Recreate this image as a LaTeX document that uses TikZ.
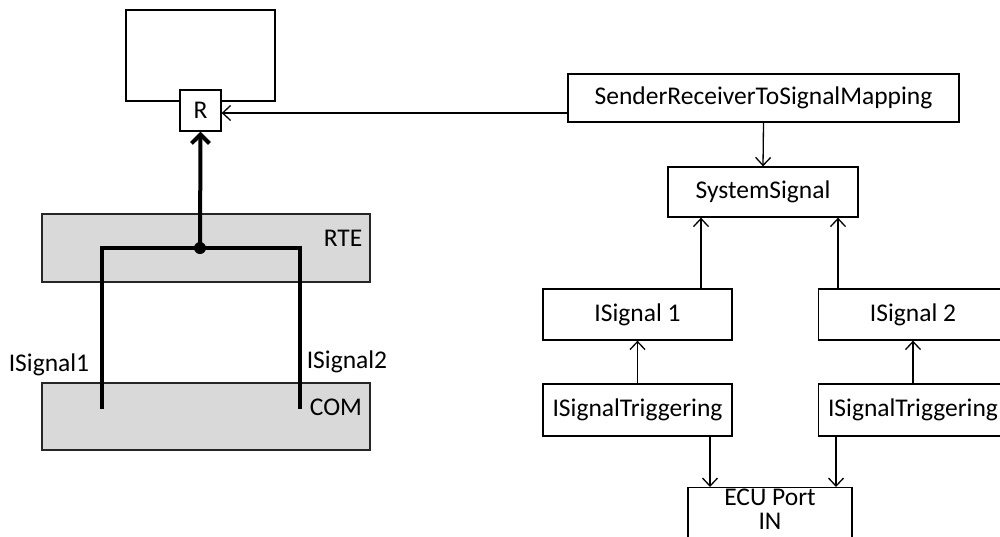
\documentclass[tikz,border=0pt]{standalone}
\usepackage{fontspec}
\setmainfont{Carlito}
\usetikzlibrary{arrows.meta}
\definecolor{boxgray}{HTML}{D9D9D9}
\tikzset{
  box/.style={draw, line width=1.3pt, inner sep=0pt, font=\fontsize{25.5}{30}\selectfont},
  graybox/.style={draw=black!85, fill=boxgray, line width=1.3pt, inner sep=0pt},
  lbl/.style={inner sep=0pt, font=\fontsize{25.5}{30}\selectfont},
  arr/.style={line width=1.3pt, -{Straight Barb[length=8pt,width=15pt,line width=1.3pt]}},
  thickarr/.style={line width=4pt, -{Straight Barb[length=9pt,width=18pt,line width=4pt]}},
  thickline/.style={line width=4pt}
}
\begin{document}
\begin{tikzpicture}[x=1pt,y=-1pt]
\useasboundingbox (0,0) rectangle (1000,536);
\clip (0,0) rectangle (1000,536);
% left part
\node[box, minimum width=149, minimum height=91] (comp) at (200.5,55.5) {};
\node[graybox, minimum width=328, minimum height=68] (rte) at (206,248) {};
\node[graybox, minimum width=328, minimum height=67] (com) at (206,416.5) {};
\node[lbl] (rtelbl) at (343,238) {RTE};
\node[lbl] (comlbl) at (336,407) {COM};
\node[lbl] (s1lbl) at (49,365) {ISignal1};
\node[lbl] (s2lbl) at (347,362) {ISignal2};
\coordinate (j) at (200,248);
\coordinate (l1) at (102,248);
\coordinate (l2) at (102,409);
\coordinate (r1) at (300,248);
\coordinate (r2) at (300,409);
\draw[thickline] (l2) -- (l1) -- (r1) -- (r2);
\fill (j) circle (6);
\node[box, fill=white, minimum width=41, minimum height=41] (R) at (200.5,110.5) {R};
\draw[thickarr] (j) -- (R.south);
% right part
\node[box, minimum width=391, minimum height=48] (map) at (763.5,98) {SenderReceiverToSignalMapping};
\node[box, minimum width=190, minimum height=50] (sys) at (763,192) {SystemSignal};
\node[box, minimum width=189, minimum height=51] (is1) at (637.5,314.5) {ISignal 1};
\node[box, minimum width=189, minimum height=51] (is2) at (913,314.5) {ISignal 2};
\node[box, minimum width=189, minimum height=52] (tr1) at (637.5,410) {ISignalTriggering};
\node[box, minimum width=189, minimum height=52] (tr2) at (913,410) {ISignalTriggering};
\node[box, minimum width=164, minimum height=80, anchor=north] (ecu) at (770,487) {};
\node[lbl, anchor=base] (ecutxt1) at (770,505) {ECU Port};
\node[lbl, anchor=base] (ecutxt2) at (770,529) {IN};
\draw[arr] ([yshift=-15pt]map.west) -- ([yshift=-2.5pt]R.east);
\draw[arr] (map.south) -- (sys.north);
\draw[arr] ([xshift=63.5pt]is1.north) -- ([xshift=-62pt]sys.south);
\draw[arr] ([xshift=-75pt]is2.north) -- ([xshift=75pt]sys.south);
\draw[arr] (tr1.north) -- (is1.south);
\draw[arr] (tr2.north) -- (is2.south);
\draw[arr] ([xshift=72.5pt]tr1.south) -- ([xshift=-60pt]ecu.north);
\draw[arr] ([xshift=-77pt]tr2.south) -- ([xshift=66pt]ecu.north);
\end{tikzpicture}
\end{document}
